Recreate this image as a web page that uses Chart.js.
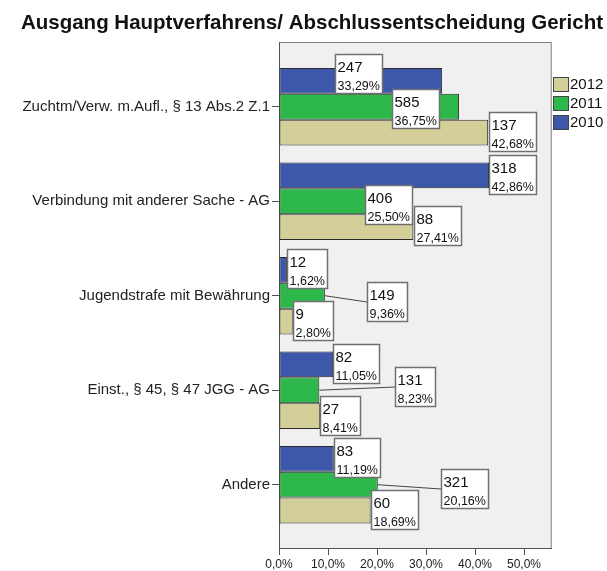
<!DOCTYPE html>
<html><head><meta charset="utf-8">
<script src="https://cdn.jsdelivr.net/npm/chart.js@4.4.0/dist/chart.umd.min.js"></script>
<style>html,body{margin:0;padding:0;background:#fff;}#wrap{width:607px;height:571px;position:relative;}</style>
</head><body><div id="wrap"><canvas id="c" width="607" height="571"></canvas></div>
<script>
const chartTitle = 'Ausgang Hauptverfahrens/ Abschlussentscheidung Gericht';
const categories = ['Zuchtm/Verw. m.Aufl., § 13 Abs.2 Z.1', 'Verbindung mit anderer Sache - AG', 'Jugendstrafe mit Bewährung', 'Einst., § 45, § 47 JGG - AG', 'Andere'];
const seriesNames = ['2010', '2011', '2012'];
const pct2010 = [33.29, 42.86, 1.62, 11.05, 11.19];
const pct2011 = [36.75, 25.50, 9.36, 8.23, 20.16];
const pct2012 = [42.68, 27.41, 2.80, 8.41, 18.69];
const count2010 = [247, 318, 12, 82, 83];
const count2011 = [585, 406, 149, 131, 321];
const count2012 = [137, 88, 9, 27, 60];
const xTicks = [0, 10, 20, 30, 40, 50];

// styling (not data)
const FONT = "'Liberation Sans', Arial, sans-serif";
const seriesColors = ['#3D58AB', '#2EB84B', '#D4CF99'];
// label box offsets relative to bar end / bar centre (dx, dy)
const labelOffsets = [
  [[-107, -27], [0, -20], [0, -20.5], [0, -20], [0, -20.5]],
  [[-67, -17.4], [-39, -16.2], [42, -14], [76, -23.5], [63, -16]],
  [[0.6, -20.6], [0.7, -21.4], [0, -20.5], [0, -20.4], [0, -20.3]]
];

const pctSeries = [pct2010, pct2011, pct2012];
const countSeries = [count2010, count2011, count2012];

const fmtPct = v => v.toFixed(2).replace('.', ',') + '%';

const datasets = seriesNames.map((name, di) => ({
  label: name,
  data: pctSeries[di].map((v, i) => ({ x: v, y: i })),
  backgroundColor: seriesColors[di],
  borderColor: '#2a2a2a',
  borderWidth: 1,
  borderSkipped: false,
  categoryPercentage: 0.821,
  barPercentage: 1.0
}));

const framePlugin = {
  id: 'frame',
  beforeDraw(chart) {
    const { ctx, chartArea: a } = chart;
    ctx.save();
    ctx.fillStyle = '#F0F0F0';
    ctx.fillRect(a.left, a.top, a.right - a.left, a.bottom - a.top);
    ctx.strokeStyle = '#808080';
    ctx.lineWidth = 1;
    ctx.strokeRect(a.left + 0.5, a.top + 0.5, a.right - a.left - 1, a.bottom - a.top);
    ctx.restore();
  },
  afterDraw(chart) {
    const { ctx } = chart;
    ctx.save();
    // title
    ctx.font = 'bold 20.5px ' + FONT;
    ctx.fillStyle = '#111';
    ctx.textAlign = 'center';
    ctx.textBaseline = 'alphabetic';
    ctx.fillText(chartTitle, 312, 28.5);
    // legend (reverse order)
    const order = [2, 1, 0];
    order.forEach((di, k) => {
      const y = 77.5 + k * 19;
      ctx.fillStyle = seriesColors[di];
      ctx.fillRect(553.5, y, 15, 14);
      ctx.strokeStyle = '#444';
      ctx.lineWidth = 1;
      ctx.strokeRect(553.5, y, 15, 14);
      ctx.fillStyle = '#111';
      ctx.font = '15px ' + FONT;
      ctx.textAlign = 'left';
      ctx.textBaseline = 'middle';
      ctx.fillText(seriesNames[di], 570, y + 7.5);
    });
    ctx.restore();
  },
  afterDatasetsDraw(chart) {
    const { ctx } = chart;
    ctx.save();
    chart.data.datasets.forEach((ds, di) => {
      const meta = chart.getDatasetMeta(di);
      meta.data.forEach((bar, i) => {
        const off = labelOffsets[di][i];
        const t1 = String(countSeries[di][i]);
        const t2 = fmtPct(pctSeries[di][i]);
        ctx.font = '15px ' + FONT;
        const w1 = ctx.measureText(t1).width;
        ctx.font = '12.5px ' + FONT;
        const w2 = ctx.measureText(t2).width;
        const w = Math.round(Math.max(w1, w2) + 6);
        const h = 40;
        const bx = Math.round(bar.x + off[0]);
        const by = Math.round(bar.y + off[1]);
        if (off[0] > 5) {
          ctx.strokeStyle = '#444';
          ctx.lineWidth = 1;
          ctx.beginPath();
          ctx.moveTo(bar.x, bar.y);
          ctx.lineTo(bx, by + h / 2);
          ctx.stroke();
        }
        ctx.fillStyle = '#fff';
        ctx.fillRect(bx, by, w, h);
        ctx.strokeStyle = '#707070';
        ctx.lineWidth = 1.5;
        ctx.strokeRect(bx + 0.5, by + 0.5, w - 1, h - 1);
        ctx.fillStyle = '#111';
        ctx.textAlign = 'left';
        ctx.textBaseline = 'alphabetic';
        ctx.font = '15px ' + FONT;
        ctx.fillText(t1, bx + 2.5, by + 17.5);
        ctx.font = '12.5px ' + FONT;
        ctx.fillText(t2, bx + 2.5, by + 35.5);
      });
    });
    ctx.restore();
  }
};

new Chart(document.getElementById('c'), {
  type: 'bar',
  data: { datasets },
  options: {
    indexAxis: 'y',
    responsive: false,
    devicePixelRatio: 1,
    animation: false,
    layout: { padding: { top: 42, right: 55.3, bottom: 0, left: 0 } },
    plugins: { legend: { display: false }, title: { display: false }, tooltip: { enabled: false } },
    scales: {
      x: {
        type: 'linear', min: 0, max: 55.65, position: 'bottom', offset: false,
        afterBuildTicks: s => { s.ticks = xTicks.map(v => ({ value: v })); },
        afterFit: s => { s.height = 23; },
        ticks: {
          callback: v => v.toFixed(1).replace('.', ',') + '%',
          font: { family: FONT, size: 12 }, color: '#222', padding: 2, maxRotation: 0, autoSkip: false
        },
        grid: { drawOnChartArea: false, drawTicks: true, tickLength: 7, color: '#555', lineWidth: 1, offset: false },
        border: { display: true, color: '#555', width: 1 }
      },
      y: {
        type: 'linear', reverse: true, min: -0.685, max: 4.67, offset: false,
        afterBuildTicks: s => { s.ticks = categories.map((c, i) => ({ value: i })); },
        afterFit: s => { s.width = 279; },
        ticks: {
          callback: v => categories[v],
          font: { family: FONT, size: 15 }, color: '#222', padding: 2, autoSkip: false
        },
        grid: { drawOnChartArea: false, drawTicks: true, tickLength: 7, color: '#555', lineWidth: 1, offset: false },
        border: { display: true, color: '#555', width: 1 }
      }
    }
  },
  plugins: [framePlugin]
});
</script>
</body></html>
